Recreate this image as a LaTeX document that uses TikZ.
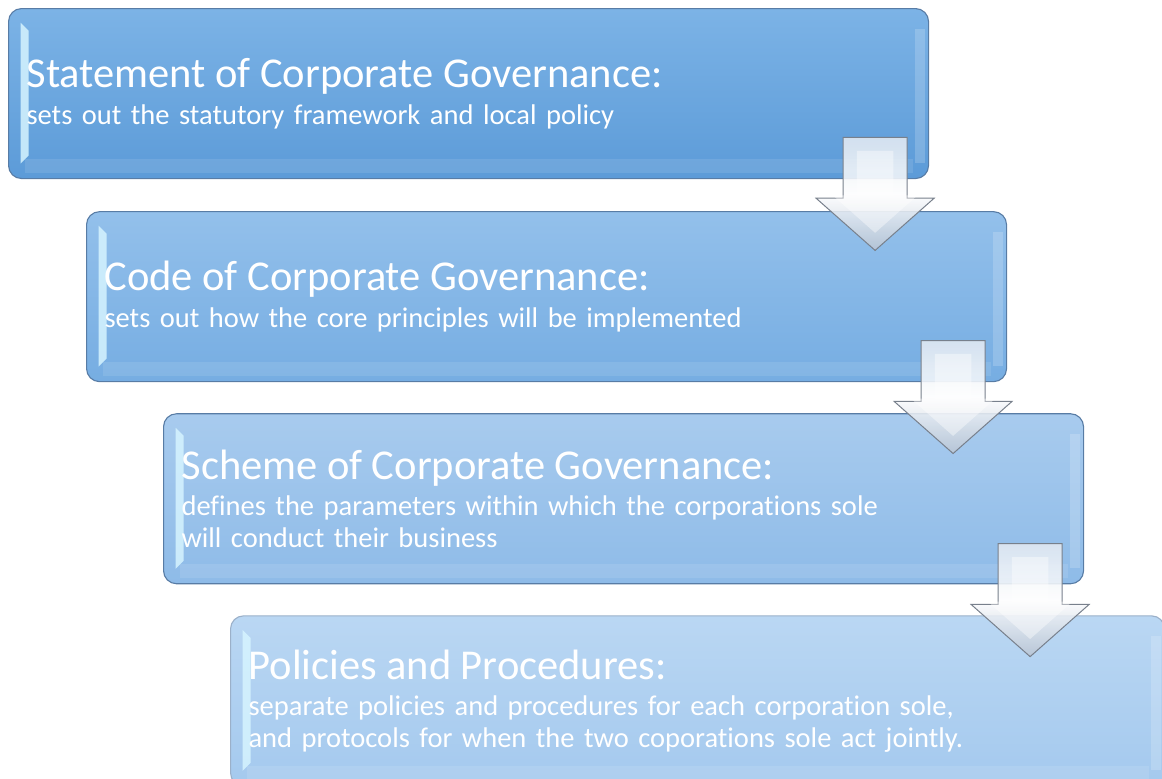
\documentclass[tikz,border=0pt]{standalone}
\usepackage{fontspec}
\setmainfont{Carlito}[Ligatures=NoCommon, WordSpace=0.8]
\usetikzlibrary{shapes.arrows, positioning, calc}
\definecolor{stageAtop}{RGB}{124, 179, 230}
\definecolor{stageAbot}{RGB}{92, 155, 216}
\definecolor{stageBtop}{RGB}{147, 192, 235}
\definecolor{stageBbot}{RGB}{118, 173, 226}
\definecolor{stageCtop}{RGB}{168, 203, 238}
\definecolor{stageCbot}{RGB}{142, 187, 232}
\definecolor{stageDtop}{RGB}{186, 215, 243}
\definecolor{stageDbot}{RGB}{164, 201, 238}
\definecolor{stageedge}{RGB}{88, 124, 165}
\definecolor{bevelglow}{RGB}{214, 244, 255}
\definecolor{arrowedge}{RGB}{120, 128, 140}
\definecolor{arrowlight}{RGB}{226, 233, 242}
\definecolor{arrowdark}{RGB}{184, 196, 212}
\tikzstyle{stage} = [rectangle, rounded corners=13pt, anchor=north west, minimum height=170pt, text width=884pt, inner xsep=18pt, inner ysep=0pt, align=left, text=white, draw=stageedge, line width=1.1pt, font=\fontsize{28.5}{32}\selectfont,
  path picture={
    \fill[sharp corners, bevelglow, fill opacity=0.85]
      ([xshift=12pt,yshift=-14pt]path picture bounding box.north west) -- ([xshift=20pt,yshift=-22pt]path picture bounding box.north west)
      -- ([xshift=20pt,yshift=23pt]path picture bounding box.south west) -- ([xshift=12pt,yshift=15pt]path picture bounding box.south west) -- cycle;
    \fill[sharp corners, white, fill opacity=0.18]
      ([xshift=-14pt,yshift=-20pt]path picture bounding box.north east) rectangle ([xshift=-4pt,yshift=16pt]path picture bounding box.south east);
    \fill[sharp corners, white, fill opacity=0.10]
      ([xshift=16pt,yshift=20pt]path picture bounding box.south west) rectangle ([xshift=-16pt,yshift=6pt]path picture bounding box.south east);
  }]
\tikzstyle{flowarrow} = [single arrow, rotate=-90, anchor=tip, minimum height=113pt, minimum width=117pt, single arrow head extend=27pt, single arrow tip angle=97, inner xsep=0pt, inner ysep=31.5pt, draw=arrowedge, line width=1pt, top color=arrowlight, bottom color=arrowdark, middle color=white!92!arrowlight, fill opacity=0.88]
\tikzstyle{flowarrowinner} = [single arrow, rotate=-90, anchor=tip, minimum height=82pt, minimum width=84pt, single arrow head extend=24pt, single arrow tip angle=97, inner xsep=0pt, inner ysep=18pt, fill=white, fill opacity=0.4]

\begin{document}
\begin{tikzpicture}
  \useasboundingbox (0,0) rectangle (1162pt,-779pt);
  \clip (0,0) rectangle (1162pt,-779pt);

  % the four levels
  \node[stage, top color=stageAtop, bottom color=stageAbot] (statement) at (8pt,-8pt)
    {{\fontsize{42.5}{42}\selectfont Statement of Corporate Governance:}\\[5pt]sets out the statutory framework and local policy};
  \node[stage, top color=stageBtop, bottom color=stageBbot, below=32pt of statement.south west, anchor=north west, xshift=78pt] (code)
    {{\fontsize{42.5}{42}\selectfont Code of Corporate Governance:}\\[5pt]sets out how the core principles will be implemented};
  \node[stage, top color=stageCtop, bottom color=stageCbot, below=31pt of code.south west, anchor=north west, xshift=77pt] (scheme)
    {{\fontsize{42.5}{42}\selectfont Scheme of Corporate Governance:}\\[4pt]defines the parameters within which the corporations sole\\will conduct their business};
  \node[stage, top color=stageDtop, bottom color=stageDbot, draw=stageedge!60, text width=898pt, below=31pt of scheme.south west, anchor=north west, xshift=67pt] (policies)
    {{\fontsize{42.5}{42}\selectfont Policies and Procedures:}\\[4pt]separate policies and procedures for each corporation sole,\\and protocols for when the two coporations sole act jointly.};

  % arrows between levels
  \node[flowarrow] (arrA) at ($(statement.south east)+(-54pt,-72pt)$) {};
  \node[flowarrowinner] at ($(arrA.tip)+(0,18pt)$) {};
  \node[flowarrow] (arrB) at ($(code.south east)+(-54pt,-72pt)$) {};
  \node[flowarrowinner] at ($(arrB.tip)+(0,18pt)$) {};
  \node[flowarrow] (arrC) at ($(scheme.south east)+(-54pt,-73pt)$) {};
  \node[flowarrowinner] at ($(arrC.tip)+(0,18pt)$) {};
\end{tikzpicture}
\end{document}
